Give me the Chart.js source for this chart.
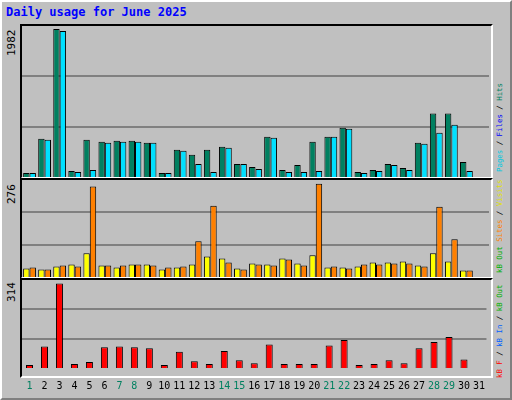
<!DOCTYPE html>
<html>
<head>
<script src="https://cdn.jsdelivr.net/npm/chart.js@4"></script>
<style>
  body { margin: 0; background: #fff; }
  #frame { position: absolute; left: 0; top: 0; width: 508px; height: 396px; background: #c0c0c0;
           border: 2px solid; border-color: #fff #808080 #808080 #fff; }
  .panel { position: absolute; left: 20px; width: 469px; background: #c0c0c0;
           border-top: 2px solid #000; border-left: 2px solid #000; border-bottom: 2px solid #fff; border-right: 2px solid #fff; }
  .box { position: absolute; }
  .title { position: absolute; left: 6px; top: 5px; font: bold 12px "DejaVu Sans Mono", monospace; color: #0000ff; }
  .vl { position: absolute; font: 11px "DejaVu Sans Mono", monospace; transform: rotate(-90deg); transform-origin: left top; white-space: nowrap; }
  .rl { font-size: 7.4px; line-height: 12px; }
</style>
</head>
<body>
<div id="frame"></div>
<div class="title">Daily usage for June 2025</div>
<div class="panel" style="top:24px;height:151px"></div>
<div class="panel" style="top:178px;height:97px"></div>
<div class="panel" style="top:278px;height:96px"></div>
<div class="box" style="left:22px;top:26px;width:467px;height:151px"><canvas id="c1"></canvas></div>
<div class="box" style="left:22px;top:180px;width:467px;height:97px"><canvas id="c2"></canvas></div>
<div class="box" style="left:22px;top:280px;width:467px;height:116px"><canvas id="c3"></canvas></div>
<div class="vl" style="left:5px;top:56px">1982</div>
<div class="vl" style="left:5px;top:204px">276</div>
<div class="vl" style="left:5px;top:302px">314</div>
<div class="vl rl" style="left:494px;top:172px"><span style="color:#00c8e0">Pages</span> / <span style="color:#0000ff">Files</span> / <span style="color:#008060">Hits</span></div>
<div class="vl rl" style="left:494px;top:273px"><span style="color:#00b000">kB Out</span> <span style="color:#ff8000">Sites</span> / <span style="color:#e0e000">Visits</span></div>
<div class="vl rl" style="left:494px;top:378px"><span style="color:#ff0000">kB F</span> / <span style="color:#0060ff">kB In</span> / <span style="color:#00b000">kB Out</span></div>
<script>
const days = Array.from({length: 31}, (_, i) => String(i + 1));
const weekends = [1, 7, 8, 14, 15, 21, 22, 28, 29];
const hits = [54,512,1982,81,499,472,485,485,458,54,364,297,364,404,175,135,539,94,162,472,539,661,67,94,175,121,458,849,849,202,0];
const pages = [54,499,1955,67,94,458,472,472,458,54,351,175,67,391,175,108,526,67,67,81,539,647,54,81,162,94,445,593,701,81,0];
const visits = [25,22,31,37,70,34,28,37,37,22,28,37,61,55,25,40,37,55,40,64,28,28,31,43,43,46,34,70,46,19,0];
const sites = [28,22,34,31,268,34,34,37,34,28,31,106,211,43,22,37,34,52,34,276,31,25,37,37,40,40,31,208,112,19,0];
const kbytes = [11,80,314,15,22,77,80,77,73,11,60,25,15,63,29,18,87,15,15,15,84,104,11,15,29,18,73,97,115,32,0];

function makeChart(id, sets, max, showX) {
  new Chart(document.getElementById(id), {
    type: 'bar',
    data: { labels: days, datasets: sets.map(s => ({
      data: s.data, backgroundColor: s.color, borderColor: '#000', borderWidth: 1,
      categoryPercentage: 0.85, barPercentage: s.bp || 1 })) },
    options: {
      responsive: true, maintainAspectRatio: false, animation: false,
      layout: { padding: 0 },
      plugins: { legend: { display: false }, tooltip: { enabled: false } },
      scales: {
        x: { display: showX, grid: { display: false }, border: { display: false },
             ticks: { padding: 4, autoSkip: false, maxRotation: 0, minRotation: 0,
                      font: { family: 'DejaVu Sans Mono', size: 10 },
                      color: c => weekends.includes(c.index + 1) ? '#008060' : '#000' } },
        y: { min: 0, max: max, display: true, border: { display: false },
             ticks: { display: false },
             afterBuildTicks: a => { a.ticks = [{value: max / 3}, {value: 2 * max / 3}]; },
             grid: { color: '#808080', lineWidth: 2, drawTicks: false } }
      }
    }
  });
}

makeChart('c1', [{data: hits, color: '#008060'}, {data: pages, color: '#00e0ff'}], 2022, false);
makeChart('c2', [{data: visits, color: '#ffff00'}, {data: sites, color: '#ff8000'}], 287, false);
makeChart('c3', [{data: kbytes, color: '#ff0000', bp: 0.55}], 327, true);
</script>
</body>
</html>
